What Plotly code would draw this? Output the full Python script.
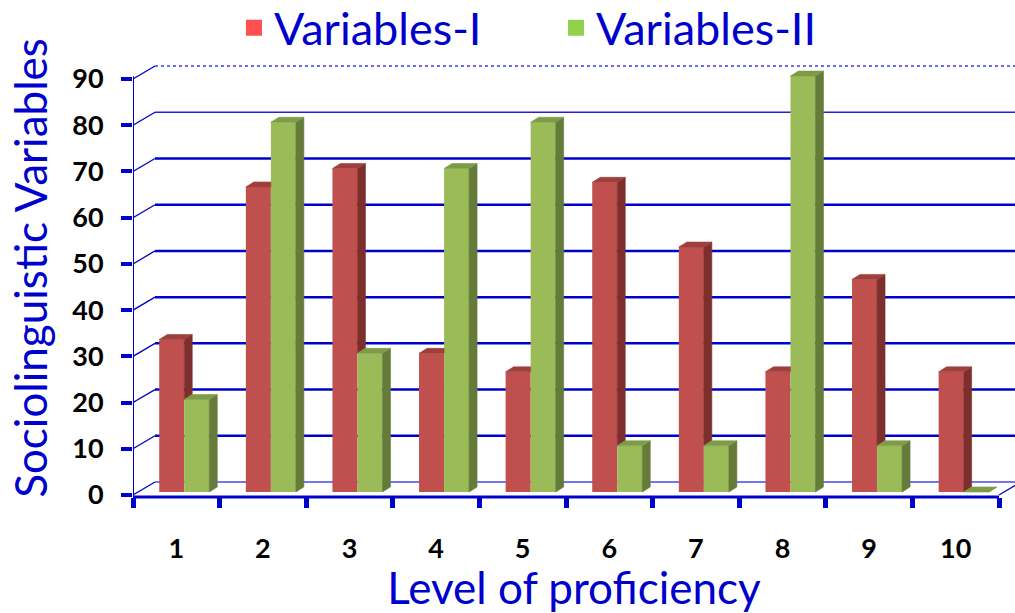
import plotly.graph_objects as go

# ---------------- data ----------------
categories = ["1", "2", "3", "4", "5", "6", "7", "8", "9", "10"]
var1 = [33, 66, 70, 30, 26, 67, 53, 26, 46, 26]     # Variables-I
var2 = [20, 80, 30, 70, 80, 10, 10, 90, 10, 0]      # Variables-II
y_ticks = [0, 10, 20, 30, 40, 50, 60, 70, 80, 90]
series_names = ["Variables-I", "Variables-II"]

# ---------------- style / geometry ----------------
W, H = 1015, 613
ML, MR, MT, MB = 133, 0, 0, 103
PAPER_H = H - MT - MB
PLOT_TOP_PX = 26
Y_DOMAIN_TOP = (PAPER_H - PLOT_TOP_PX) / PAPER_H
UNIT_PX = 86.6
XMAX = (W - ML - MR) / UNIT_PX
PX_PER_UNIT_Y = 4.622
Y_BASE_PX = 492                     # pixel of bar value 0
Y_RANGE = [-(H - MB - Y_BASE_PX) / PX_PER_UNIT_Y, (Y_BASE_PX - PLOT_TOP_PX) / PX_PER_UNIT_Y]
FRONT_OFF = -0.65                   # front plane offset (value units)
BACK_DX, BACK_DY = 0.254, 2.16      # back wall offset
BAR_SHIFT, BAR_W = 0.092, 0.289
SIDE_DX, SIDE_DY = 0.092, 1.08
XAXIS_POS = (H - MB - 497) / PAPER_H

BLUE = "#0000CC"
RED_F, RED_S, RED_T = "#C0504D", "#7C2F2D", "#9E3F3C"
GRN_F, GRN_S, GRN_T = "#9BBB59", "#657B39", "#7E9B47"
FONT = "Lato"

n = len(categories)
centers = [i + 0.5 + BAR_SHIFT for i in range(n)]

fig = go.Figure()

# front faces
fig.add_trace(go.Bar(x=centers, y=var1, width=BAR_W, offset=-BAR_W,
                     marker=dict(color=RED_F, line=dict(width=0)),
                     name=series_names[0], showlegend=False, hoverinfo="y"))
fig.add_trace(go.Bar(x=centers, y=var2, width=BAR_W, offset=0,
                     marker=dict(color=GRN_F, line=dict(width=0)),
                     name=series_names[1], showlegend=False, hoverinfo="y"))


def poly(xs, ys, color):
    return go.Scatter(x=xs, y=ys, mode="lines", fill="toself", fillcolor=color,
                      line=dict(width=0.6, color=color), hoverinfo="skip",
                      showlegend=False)


rs_x, rs_y, rt_x, rt_y = [], [], [], []
gs_x, gs_y, gt_x, gt_y = [], [], [], []
for c, vr, vg in zip(centers, var1, var2):
    x0, x1 = c - BAR_W, c
    if vr > vg:
        rs_x += [x1, x1 + SIDE_DX, x1 + SIDE_DX, x1, x1, None]
        rs_y += [vg, vg + SIDE_DY, vr + SIDE_DY, vr, vg, None]
        rt_x += [x0, x0 + SIDE_DX, x1 + SIDE_DX, x1, x0, None]
    else:
        rt_x += [x0, x0 + SIDE_DX, x1, x1, x0, None]
    rt_y += [vr, vr + SIDE_DY, vr + SIDE_DY, vr, vr, None]
    g0, g1 = c, c + BAR_W
    gs_x += [g1, g1 + SIDE_DX, g1 + SIDE_DX, g1, g1, None]
    gs_y += [0, SIDE_DY, vg + SIDE_DY, vg, 0, None]
    gt_x += [g0, g0 + SIDE_DX, g1 + SIDE_DX, g1, g0, None]
    gt_y += [vg, vg + SIDE_DY, vg + SIDE_DY, vg, vg, None]

fig.add_trace(poly(rs_x, rs_y, RED_S))
fig.add_trace(poly(rt_x, rt_y, RED_T))
fig.add_trace(poly(gs_x, gs_y, GRN_S))
fig.add_trace(poly(gt_x, gt_y, GRN_T))

# legend entries
fig.add_trace(go.Scatter(x=[None], y=[None], mode="markers", name=series_names[0],
                         marker=dict(symbol="square", size=25, color="#FF5050")))
fig.add_trace(go.Scatter(x=[None], y=[None], mode="markers", name=series_names[1],
                         marker=dict(symbol="square", size=25, color="#92D050")))

# back wall gridlines + perspective connectors
shapes = []
for v in y_ticks:
    if v == y_ticks[-1]:
        ln = dict(color="#6A6AFF", width=2, dash="dot")
    elif v == y_ticks[-2]:
        ln = dict(color="#2020E0", width=1.5)
    elif v == y_ticks[0]:
        ln = dict(color="#4848F0", width=1.5)
    else:
        ln = dict(color=BLUE, width=2.5)
    shapes.append(dict(type="line", xref="x", yref="y", layer="below",
                       x0=BACK_DX, x1=XMAX, y0=v + BACK_DY, y1=v + BACK_DY, line=ln))
    shapes.append(dict(type="line", xref="x", yref="y", layer="below",
                       x0=0, x1=BACK_DX, y0=v + FRONT_OFF, y1=v + BACK_DY,
                       line=dict(color=BLUE, width=1.3)))
# floor right edge
shapes.append(dict(type="line", xref="x", yref="y", layer="below",
                   x0=n, x1=n + BACK_DX, y0=FRONT_OFF, y1=BACK_DY,
                   line=dict(color=BLUE, width=1.3)))
# front axes lines
shapes.append(dict(type="line", xref="x", yref="y", layer="above",
                   x0=0, x1=0, y0=y_ticks[0] + FRONT_OFF - 0.5, y1=y_ticks[-1] + FRONT_OFF + 0.6,
                   line=dict(color=BLUE, width=2)))
shapes.append(dict(type="line", xref="x", yref="paper", layer="above",
                   x0=0, x1=n, y0=XAXIS_POS, y1=XAXIS_POS,
                   line=dict(color=BLUE, width=3)))

title_font = dict(family=FONT, size=44, color=BLUE)
tick_font = dict(family=FONT, size=27, color="black", weight="bold")

fig.update_layout(
    width=W, height=H,
    margin=dict(l=ML, r=MR, t=MT, b=MB, autoexpand=False),
    paper_bgcolor="white", plot_bgcolor="white",
    barmode="overlay",
    shapes=shapes,
    showlegend=True,
    legend=dict(orientation="h", xref="paper", yref="paper",
                x=(234 - ML) / (W - ML - MR), xanchor="left",
                y=1 + 8 / PAPER_H, yanchor="top",
                font=dict(family=FONT, size=45, color=BLUE),
                entrywidth=277, entrywidthmode="pixels",
                bgcolor="rgba(0,0,0,0)", itemsizing="trace"),
    xaxis=dict(range=[0, XMAX], anchor="free", position=XAXIS_POS, automargin=False,
               tickmode="array", tickvals=[i + 0.5 for i in range(n)],
               ticktext=categories, ticks="", showgrid=False, zeroline=False,
               showline=False, tickfont=tick_font, ticklabelstandoff=33,
               minor=dict(tickmode="linear", tick0=0, dtick=1, ticks="outside",
                          ticklen=10, tickwidth=5, tickcolor=BLUE),
               title=dict(text="Level of proficiency", font=title_font, standoff=0),
               fixedrange=True),
    yaxis=dict(range=Y_RANGE, domain=[0, Y_DOMAIN_TOP], automargin=False,
               showgrid=False, zeroline=False, showline=False,
               showticklabels=False, ticks="", fixedrange=True),
    yaxis2=dict(range=[Y_RANGE[0] - FRONT_OFF, Y_RANGE[1] - FRONT_OFF],
                overlaying="y", side="left", anchor="x", automargin=False,
                tickmode="array", tickvals=y_ticks, ticktext=[str(v) for v in y_ticks],
                ticks="outside", ticklen=11, tickwidth=4, tickcolor=BLUE,
                showgrid=False, zeroline=False, showline=False,
                tickfont=tick_font, ticklabelstandoff=12,
                title=dict(text="Sociolinguistic Variables", font=title_font, standoff=10),
                fixedrange=True),
)

# dummy trace to activate yaxis2 ticks
fig.add_trace(go.Scatter(x=[None], y=[None], yaxis="y2", showlegend=False, hoverinfo="skip"))

fig.write_html("out.html", config={"displayModeBar": False},
               post_script="document.body.style.margin='0';")
